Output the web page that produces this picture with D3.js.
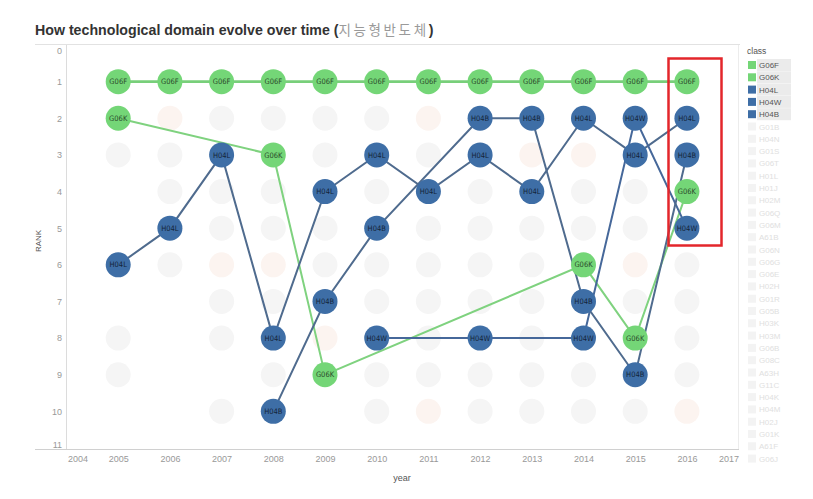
<!DOCTYPE html>
<html><head><meta charset="utf-8">
<script src="https://cdn.jsdelivr.net/npm/d3@7"></script>
<style>
body{margin:0;background:#fff;}
svg{display:block;font-family:"Liberation Sans",Arial,sans-serif;}
</style></head>
<body>
<svg id="c" width="813" height="499"></svg>
<script>
const years = [2005,2006,2007,2008,2009,2010,2011,2012,2013,2014,2015,2016];
const xTicks = [2004,2005,2006,2007,2008,2009,2010,2011,2012,2013,2014,2015,2016,2017];
const yTicks = [0,1,2,3,4,5,6,7,8,9,10,11];
const classes = ["G06F","G06K","H04L","H04W","H04B"];
// rank per year (null = not in top list)
const rankG06F = [1,1,1,1,1,1,1,1,1,1,1,1];
const rankG06K = [2,null,null,3,9,null,null,null,null,6,8,4];
const rankH04L = [6,5,3,8,4,3,4,3,4,2,3,2];
const rankH04W = [null,null,null,null,null,8,null,8,null,8,2,5];
const rankH04B = [null,null,null,10,7,5,null,2,2,7,9,3];
// faint background classes (ranks occupied by other classes each year)
const otherRanks = [[3,8,9],[2,3,4,6],[2,4,5,6,7,8,10],[2,4,5,6,7,9],[2,3,5,6,8],[2,4,6,7,9,10],
  [2,3,5,6,7,8,9,10],[4,5,6,7,9,10],[3,5,6,7,8,9,10],[3,4,5,9,10],[4,5,6,7,10],[6,7,8,9,10]];
const otherClasses = ["G01B","H04N","G01S","G06T","H01L","H01J","H02M","G06Q","G06M","A61B","G06N",
  "G06G","G06E","H02H","G01R","G05B","H03K","H03M","G06B","G08C","A63H","G11C","H04K","H04M","H02J","G01K","A61F","G06J"];

const rankData = {G06F:rankG06F,G06K:rankG06K,H04L:rankH04L,H04W:rankH04W,H04B:rankH04B};
const fillCol = {G06F:"#74d677",G06K:"#74d677",H04L:"#3e6ea6",H04W:"#3e6ea6",H04B:"#3e6ea6"};
const lineCol = {G06F:"#78cf7a",G06K:"#7fd27f",H04L:"#4f6b8e",H04W:"#46689a",H04B:"#4f6b8e"};
const textCol = {G06F:"#2b4a2b",G06K:"#2b4a2b",H04L:"#14253a",H04W:"#14253a",H04B:"#14253a"};

const svg = d3.select("#c");
const x = d3.scaleLinear().domain([2004,2017]).range([66.5,738.6]);
const y = d3.scaleLinear().domain([0,11]).range([45,448]);

// title
const t = svg.append("text").attr("x",35).attr("y",35).attr("font-size",14.2).attr("font-weight","bold").attr("fill","#333");
t.append("tspan").text("How technological domain evolve over time (");
t.append("tspan").attr("font-weight","normal").attr("fill","#9a9a9a").attr("font-family","'Noto Sans CJK KR',sans-serif")
  .attr("font-size",13.5).attr("letter-spacing","2.6").text("지능형반도체");
t.append("tspan").text(")");

// frame lines
svg.append("line").attr("x1",35).attr("x2",740).attr("y1",44.5).attr("y2",44.5).attr("stroke","#e2e2e2");
svg.append("line").attr("x1",66.5).attr("x2",66.5).attr("y1",45).attr("y2",449).attr("stroke","#dcdcdc");
svg.append("line").attr("x1",35).attr("x2",739).attr("y1",449.5).attr("y2",449.5).attr("stroke","#d0d0d0");
svg.append("line").attr("x1",738.5).attr("x2",738.5).attr("y1",45).attr("y2",449).attr("stroke","#ececec");

// axes
const yAx = svg.append("g").attr("transform","translate(62,0)").call(d3.axisLeft(y).tickValues(yTicks).tickSize(0).tickPadding(0));
yAx.select(".domain").remove();
yAx.selectAll("text").attr("fill","#999").attr("font-size",9).attr("font-family","'Liberation Sans',Arial,sans-serif")
  .attr("dy",d=>d===0?"0.95em":(d===11?"-0.1em":"0.32em"));
const xAx = svg.append("g").attr("transform","translate(0,456)").call(d3.axisBottom(x).tickValues(xTicks).tickFormat(d3.format("d")).tickSize(0).tickPadding(0));
xAx.select(".domain").remove();
xAx.selectAll("text").attr("fill","#999").attr("font-size",9).attr("font-family","'Liberation Sans',Arial,sans-serif")
  .attr("dx",d=>d===2004?"11":(d===2017?"-10":"0"));
svg.append("text").attr("x",402).attr("y",481).attr("text-anchor","middle").attr("font-size",9).attr("fill","#555").text("year");
svg.append("text").attr("transform","translate(41,241) rotate(-90)").attr("text-anchor","middle").attr("font-size",8).attr("fill","#555").text("RANK");

// background faint circles
const bg = [];
otherRanks.forEach((rs,i)=>rs.forEach(r=>bg.push({year:years[i],rank:r})));
svg.append("g").selectAll("circle").data(bg).join("circle")
  .attr("cx",d=>x(d.year)).attr("cy",d=>y(d.rank)).attr("r",12.5)
  .attr("fill",(d,i)=>i%7===3?"#fcf4f0":"#f5f5f5");

// lines
const lineGen = d3.line().x(d=>x(d.year)).y(d=>y(d.rank));
const gl = svg.append("g");
classes.forEach(c=>{
  const pts = years.map((yr,i)=>({year:yr,rank:rankData[c][i]})).filter(d=>d.rank!=null);
  gl.append("path").datum(pts).attr("d",lineGen).attr("fill","none")
    .attr("stroke",lineCol[c]).attr("stroke-width",c==="G06F"?2.6:2);
});

// nodes
const nodes = [];
classes.forEach(c=>years.forEach((yr,i)=>{ if(rankData[c][i]!=null) nodes.push({cls:c,year:yr,rank:rankData[c][i]}); }));
const gn = svg.append("g").selectAll("g").data(nodes).join("g")
  .attr("transform",d=>`translate(${x(d.year)},${y(d.rank)})`);
gn.append("circle").attr("r",12.5).attr("fill",d=>fillCol[d.cls]);
gn.append("text").attr("text-anchor","middle").attr("dy","0.35em").attr("font-size",7.5)
  .attr("font-family","'DejaVu Sans Condensed','Liberation Sans Narrow',sans-serif")
  .attr("fill",d=>textCol[d.cls]).text(d=>d.cls);

// red highlight box
svg.append("rect").attr("x",668.5).attr("y",58.5).attr("width",53).attr("height",187)
  .attr("fill","none").attr("stroke","#e3262b").attr("stroke-width",2.5);

// legend
const lg = svg.append("g");
lg.append("text").attr("x",747).attr("y",54).attr("font-size",8.5).attr("fill","#555").text("class");
const allLeg = classes.concat(otherClasses);
const step = 12.3;
allLeg.forEach((c,i)=>{
  const cy = 65 + i*step;
  const active = i<classes.length;
  if(active) lg.append("rect").attr("x",757).attr("y",cy-6).attr("width",34).attr("height",12).attr("fill","#ebebeb");
  lg.append("rect").attr("x",748).attr("y",cy-4).attr("width",8).attr("height",8).attr("fill",active?fillCol[c]:"#f3f3f3");
  lg.append("text").attr("x",759).attr("y",cy+3).attr("font-size",8).attr("fill",active?"#555":"#e0e0e0").text(c);
});
</script>
</body></html>
